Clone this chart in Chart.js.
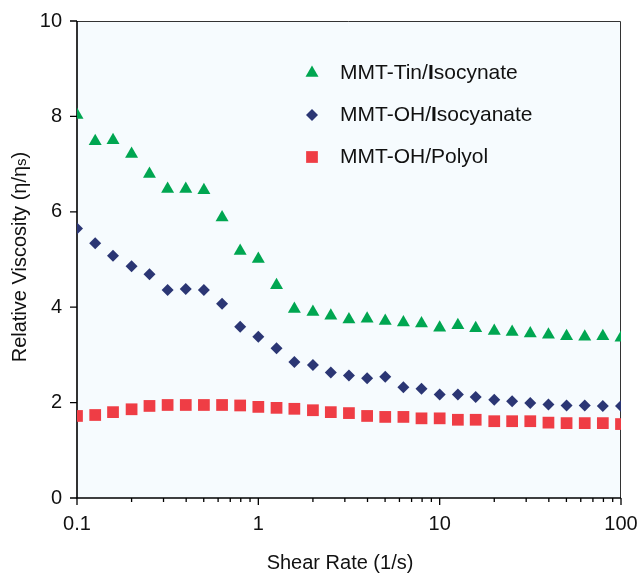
<!DOCTYPE html>
<html>
<head>
<meta charset="utf-8">
<title>Relative viscosity vs shear rate</title>
<script src="https://cdn.jsdelivr.net/npm/chart.js@4.4.1/dist/chart.umd.min.js"></script>
<style>
  html, body { margin: 0; padding: 0; background: #fff; }
  canvas { display: block; }
</style>
</head>
<body>
<canvas id="viscChart" width="642" height="574"></canvas>
<script>
// shear rate (1/s), 10 points per decade
const shearRate = [0.1, 0.126, 0.158, 0.2, 0.251, 0.316, 0.398, 0.501, 0.631, 0.794,
                   1, 1.26, 1.58, 2, 2.51, 3.16, 3.98, 5.01, 6.31, 7.94,
                   10, 12.6, 15.8, 20, 25.1, 31.6, 39.8, 50.1, 63.1, 79.4, 100];

const tinIsocynate = [8.03, 7.48, 7.5, 7.21, 6.79, 6.48, 6.48, 6.45, 5.88, 5.18,
                      5.01, 4.46, 3.96, 3.9, 3.82, 3.74, 3.76, 3.71, 3.68, 3.66,
                      3.57, 3.62, 3.56, 3.5, 3.48, 3.45, 3.42, 3.39, 3.38, 3.39, 3.36];

const ohIsocyanate = [5.65, 5.34, 5.08, 4.86, 4.69, 4.36, 4.38, 4.36, 4.07, 3.59,
                      3.38, 3.14, 2.85, 2.79, 2.63, 2.57, 2.51, 2.54, 2.32, 2.29,
                      2.17, 2.17, 2.12, 2.06, 2.03, 1.99, 1.96, 1.94, 1.94, 1.93, 1.93];

const ohPolyol = [1.72, 1.74, 1.8, 1.86, 1.93, 1.95, 1.95, 1.95, 1.95, 1.94,
                  1.91, 1.89, 1.87, 1.84, 1.8, 1.78, 1.72, 1.7, 1.7, 1.67,
                  1.67, 1.64, 1.64, 1.61, 1.61, 1.61, 1.58, 1.57, 1.57, 1.57, 1.55];

const seriesNames = ['MMT-Tin/Isocynate', 'MMT-OH/Isocyanate', 'MMT-OH/Polyol'];

const xTicks = [0.1, 1, 10, 100];
const xMinorTicks = [0.2, 0.3, 0.4, 0.5, 0.6, 0.7, 0.8, 0.9,
                     2, 3, 4, 5, 6, 7, 8, 9,
                     20, 30, 40, 50, 60, 70, 80, 90];
const yTicks = [0, 2, 4, 6, 8, 10];

const FONT = 'Arial, "Liberation Sans", Helvetica, sans-serif';
const GREEN = '#00a651';
const NAVY = '#2b3674';
const RED = '#ef3d45';

function toPoints(values) {
    return values.map((v, i) => ({ x: shearRate[i], y: v }));
}

// background, frame, tick marks and titles
const framePlugin = {
    id: 'frame',
    beforeDraw(chart) {
        const { ctx, chartArea: a } = chart;
        ctx.save();
        ctx.fillStyle = '#f6fbfe';
        ctx.fillRect(a.left, a.top, a.right - a.left, a.bottom - a.top);
        ctx.restore();
    },
    beforeDatasetsDraw(chart) {
        const { ctx, chartArea: a, scales } = chart;
        ctx.save();
        // top / right frame
        ctx.strokeStyle = '#333';
        ctx.lineWidth = 1;
        ctx.beginPath();
        ctx.moveTo(a.left, a.top + 0.5);
        ctx.lineTo(a.right - 0.5, a.top + 0.5);
        ctx.lineTo(a.right - 0.5, a.bottom);
        ctx.stroke();
        // axes
        ctx.strokeStyle = '#000';
        ctx.lineWidth = 1.6;
        ctx.beginPath();
        ctx.moveTo(a.left, a.top);
        ctx.lineTo(a.left, a.bottom);
        ctx.lineTo(a.right, a.bottom);
        ctx.stroke();
        // tick marks
        ctx.lineWidth = 1.3;
        ctx.beginPath();
        yTicks.forEach(v => {
            const y = scales.y.getPixelForValue(v);
            ctx.moveTo(a.left - 7, y);
            ctx.lineTo(a.left, y);
        });
        xTicks.forEach(v => {
            const x = scales.x.getPixelForValue(v);
            ctx.moveTo(x, a.bottom);
            ctx.lineTo(x, a.bottom + 7);
        });
        xMinorTicks.forEach(v => {
            const x = scales.x.getPixelForValue(v);
            ctx.moveTo(x, a.bottom);
            ctx.lineTo(x, a.bottom + 4);
        });
        ctx.stroke();
        ctx.restore();
    },
    afterDraw(chart) {
        const { ctx } = chart;
        ctx.save();
        ctx.fillStyle = '#111';
        ctx.textBaseline = 'middle';

        // x title
        ctx.font = '20px ' + FONT;
        ctx.textAlign = 'center';
        ctx.fillText('Shear Rate (1/s)', 340, 563);

        // y title with subscript
        ctx.translate(20, 257);
        ctx.rotate(-Math.PI / 2);
        const main = 'Relative Viscosity (\u03b7/\u03b7';
        const sub = 's';
        const tail = ')';
        ctx.font = '20px ' + FONT;
        const wMain = ctx.measureText(main).width;
        const wTail = ctx.measureText(tail).width;
        ctx.font = '15px ' + FONT;
        const wSub = ctx.measureText(sub).width;
        let x = -(wMain + wSub + wTail) / 2;
        ctx.textAlign = 'left';
        ctx.font = '20px ' + FONT;
        ctx.fillText(main, x, 0);
        x += wMain;
        ctx.font = '15px ' + FONT;
        ctx.fillText(sub, x, 2);
        x += wSub;
        ctx.font = '20px ' + FONT;
        ctx.fillText(tail, x, 0);
        ctx.restore();
    }
};

// legend inside the plot, "I" drawn bold as in the source figure
const legendPlugin = {
    id: 'insideLegend',
    afterDatasetsDraw(chart) {
        const { ctx } = chart;
        const mx = 312, tx = 340, y0 = 73, gap = 42;
        ctx.save();
        chart.data.datasets.forEach((ds, i) => {
            const y = y0 + i * gap;
            const opts = {
                pointStyle: ds.pointStyle,
                radius: ds.pointRadius,
                rotation: 0,
                borderWidth: 0
            };
            ctx.fillStyle = ds.backgroundColor;
            ctx.strokeStyle = ds.backgroundColor;
            Chart.helpers.drawPoint(ctx, opts, mx, y);

            ctx.fillStyle = '#111';
            ctx.textBaseline = 'middle';
            ctx.textAlign = 'left';
            const parts = ds.label.split(/(\/I)/);
            let x = tx;
            parts.forEach(p => {
                if (p === '/I') {
                    ctx.font = '21px ' + FONT;
                    ctx.fillText('/', x, y);
                    x += ctx.measureText('/').width;
                    ctx.font = 'bold 21px ' + FONT;
                    ctx.fillText('I', x, y);
                    x += ctx.measureText('I').width;
                } else {
                    ctx.font = '21px ' + FONT;
                    ctx.fillText(p, x, y);
                    x += ctx.measureText(p).width;
                }
            });
        });
        ctx.restore();
    }
};

new Chart(document.getElementById('viscChart'), {
    type: 'scatter',
    data: {
        datasets: [
            {
                label: seriesNames[0],
                data: toPoints(tinIsocynate),
                pointStyle: 'triangle',
                pointRadius: 7.5,
                backgroundColor: GREEN,
                borderWidth: 0
            },
            {
                label: seriesNames[1],
                data: toPoints(ohIsocyanate),
                pointStyle: 'rectRot',
                pointRadius: 6,
                backgroundColor: NAVY,
                borderWidth: 0
            },
            {
                label: seriesNames[2],
                data: toPoints(ohPolyol),
                pointStyle: 'rect',
                pointRadius: 8.3,
                backgroundColor: RED,
                borderWidth: 0
            }
        ]
    },
    options: {
        responsive: false,
        animation: false,
        devicePixelRatio: 1,
        layout: { padding: { top: 21, right: 21, left: 0, bottom: 0 } },
        plugins: {
            legend: { display: false },
            tooltip: { enabled: false }
        },
        elements: { point: { hoverRadius: 0 } },
        scales: {
            x: {
                type: 'logarithmic',
                min: 0.1,
                max: 100,
                grid: { display: false, drawTicks: false },
                border: { display: false },
                afterBuildTicks: s => { s.ticks = xTicks.map(v => ({ value: v, major: true })); },
                afterFit: s => {
                    s.height = 76;
                    s.paddingLeft = 0;
                    s.paddingRight = 0;
                },
                ticks: {
                    autoSkip: false,
                    maxRotation: 0,
                    padding: 14,
                    color: '#111',
                    font: { family: FONT, size: 20 },
                    callback: v => String(v)
                }
            },
            y: {
                min: 0,
                max: 10,
                grid: { display: false, drawTicks: false },
                border: { display: false },
                afterBuildTicks: s => { s.ticks = yTicks.map(v => ({ value: v })); },
                afterFit: s => {
                    s.width = 77;
                    s.paddingTop = 0;
                    s.paddingBottom = 0;
                },
                ticks: {
                    padding: 15,
                    color: '#111',
                    font: { family: FONT, size: 20 }
                }
            }
        }
    },
    plugins: [framePlugin, legendPlugin]
});
</script>
</body>
</html>
